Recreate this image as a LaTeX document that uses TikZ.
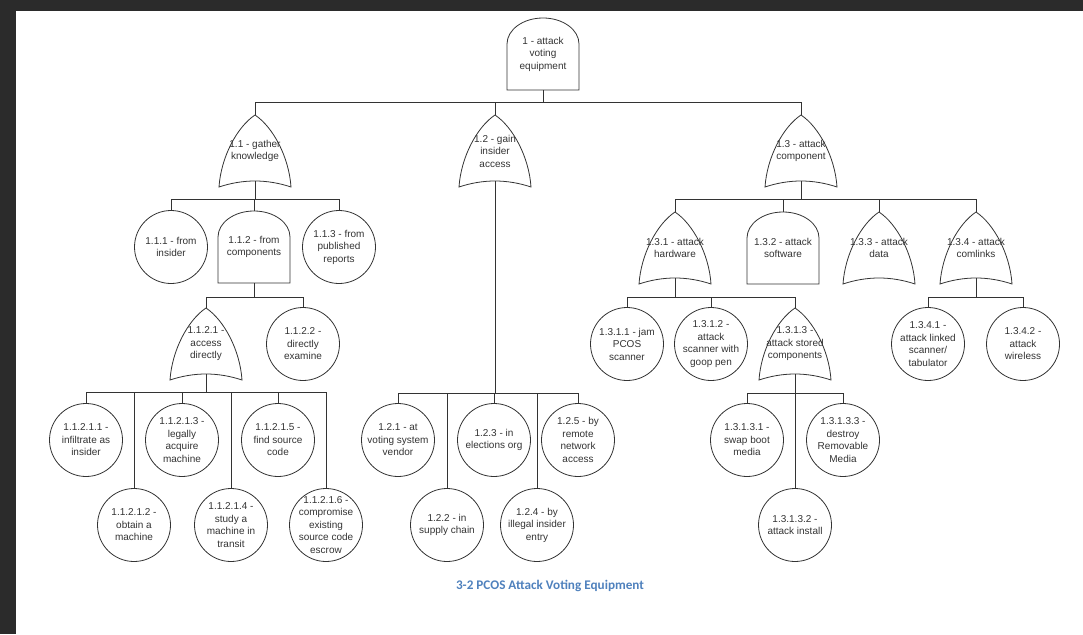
\documentclass[tikz,border=0pt]{standalone}
\usepackage{fontspec}
\setmainfont{Liberation Sans}
\newfontfamily\capfont{Carlito}
\usetikzlibrary{calc}
\definecolor{capblue}{HTML}{4F81BD}
\definecolor{framegray}{HTML}{2B2B2B}
\definecolor{ink}{HTML}{333333}
\tikzset{
  lbl/.style={font=\fontsize{10}{12.5}\selectfont, text=ink, align=center, inner sep=0pt},
  leaf/.style={circle, draw=ink, line width=0.8pt, minimum size=73pt, inner sep=0pt},
  gatebox/.style={rectangle, draw=none, minimum width=72pt, minimum height=72pt, inner sep=0pt},
  outline/.style={draw=ink, line width=0.8pt},
  conn/.style={draw=black!80, line width=0.8pt},
  caption/.style={font=\capfont\bfseries\fontsize{13.2}{15}\selectfont, text=capblue, inner sep=0pt}
}
\newcommand\leafnode[4]{\node[leaf] (#1) at (#2,#3) {};
  \node[lbl] (#1-t) at (#1.center) {#4};}
\newcommand\orgatenode[4]{\node[gatebox] (#1) at (#2,#3) {};
  \draw[outline, shift={(#2,#3)}] (-36,36) .. controls (-34,6) and (-18,-24) .. (0,-36)
     .. controls (18,-24) and (34,6) .. (36,36)
     .. controls (12,28) and (-12,28) .. (-36,36) -- cycle;
  \node[lbl] (#1-t) at (#1.center) {#4};}
\newcommand\andgatenode[4]{\node[gatebox] (#1) at (#2,#3) {};
  \draw[outline, shift={(#2,#3)}] (-36,36) -- (-36,-10)
     arc[start angle=180, end angle=360, x radius=36, y radius=26] -- (36,36) -- cycle;
  \node[lbl] (#1-t) at (#1.center) {#4};}
\begin{document}
\begin{tikzpicture}[x=1pt,y=-1pt]
\useasboundingbox (0,0) rectangle (1083,634);
\fill[framegray] (0,0) rectangle (1083,11);
\fill[framegray] (0,0) rectangle (16,634);

% top
\andgatenode{T}{543}{54}{1 - attack\\voting\\equipment}
% level 1
\orgatenode{G11}{255}{151}{1.1 - gather\\knowledge}
\orgatenode{G12}{495}{151}{1.2 - gain\\insider\\access}
\orgatenode{G13}{801}{151}{1.3 - attack\\component}
% level 2
\leafnode{C111}{171}{247}{1.1.1 - from\\insider}
\andgatenode{G112}{254}{247}{1.1.2 - from\\components}
\leafnode{C113}{339}{247}{1.1.3 - from\\published\\reports}
\orgatenode{G131}{675}{248}{1.3.1 - attack\\hardware}
\andgatenode{G132}{783}{248}{1.3.2 - attack\\software}
\orgatenode{G133}{879}{248}{1.3.3 - attack\\data}
\orgatenode{G134}{976}{248}{1.3.4 - attack\\comlinks}
% level 3
\orgatenode{G1121}{206}{344}{1.1.2.1 -\\access\\directly}
\leafnode{C1122}{303}{344}{1.1.2.2 -\\directly\\examine}
\leafnode{C1311}{627}{344}{1.3.1.1 - jam\\PCOS\\scanner}
\leafnode{C1312}{711}{344}{1.3.1.2 -\\attack\\scanner with\\goop pen}
\orgatenode{G1313}{795}{344}{1.3.1.3 -\\attack stored\\components}
\leafnode{C1341}{928}{344}{1.3.4.1 -\\attack linked\\scanner/\\tabulator}
\leafnode{C1342}{1023}{344}{1.3.4.2 -\\attack\\wireless}
% level 4
\leafnode{C11211}{86}{440}{1.1.2.1.1 -\\infiltrate as\\insider}
\leafnode{C11212}{134}{525}{1.1.2.1.2 -\\obtain a\\machine}
\leafnode{C11213}{182}{440}{1.1.2.1.3 -\\legally\\acquire\\machine}
\leafnode{C11214}{231}{525}{1.1.2.1.4 -\\study a\\machine in\\transit}
\leafnode{C11215}{278}{440}{1.1.2.1.5 -\\find source\\code}
\leafnode{C11216}{326}{525}{1.1.2.1.6 -\\compromise\\existing\\source code\\escrow}
\leafnode{C121}{398}{440}{1.2.1 - at\\voting system\\vendor}
\leafnode{C122}{447}{525}{1.2.2 - in\\supply chain}
\leafnode{C123}{494}{440}{1.2.3 - in\\elections org}
\leafnode{C124}{537}{525}{1.2.4 - by\\illegal insider\\entry}
\leafnode{C125}{578}{440}{1.2.5 - by\\remote\\network\\access}
\leafnode{C13131}{747}{440}{1.3.1.3.1 -\\swap boot\\media}
\leafnode{C13132}{795}{525}{1.3.1.3.2 -\\attack install}
\leafnode{C13133}{843}{440}{1.3.1.3.3 -\\destroy\\Removable\\Media}

% connectors
\foreach \c in {G11,G12,G13} \draw[conn] (T.south) -- ++(0,12) -| (\c.north);
\foreach \c in {C111,G112,C113} \draw[conn] ([yshift=6pt]G11.south) -- ++(0,18) -| (\c.north);
\foreach \c in {C121,C122,C123,C124,C125} \draw[conn] ([yshift=6pt]G12.south) -- ++(0,212) -| (\c.north);
\foreach \c in {G131,G132,G133,G134} \draw[conn] ([yshift=6pt]G13.south) -- ++(0,18) -| (\c.north);
\foreach \c in {G1121,C1122} \draw[conn] (G112.south) -- ++(0,14) -| (\c.north);
\foreach \c in {C1311,C1312,G1313} \draw[conn] ([yshift=6pt]G131.south) -- ++(0,19) -| (\c.north);
\foreach \c in {C1341,C1342} \draw[conn] ([yshift=6pt]G134.south) -- ++(0,19) -| (\c.north);
\foreach \c in {C11211,C11212,C11213,C11214,C11215,C11216} \draw[conn] ([yshift=6pt]G1121.south) -- ++(0,18) -| (\c.north);
\foreach \c in {C13131,C13132,C13133} \draw[conn] ([yshift=6pt]G1313.south) -- ++(0,19) -| (\c.north);

\node[caption] (cap) at (550,586) {3-2 PCOS Attack Voting Equipment};
\end{tikzpicture}
\end{document}
